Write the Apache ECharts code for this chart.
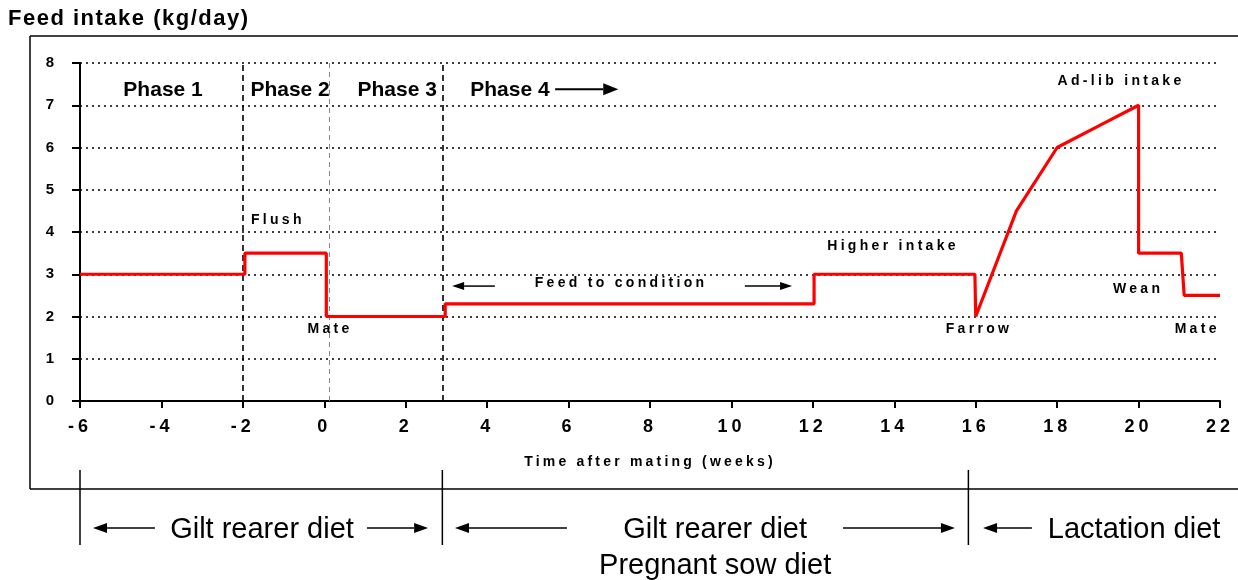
<!DOCTYPE html>
<html><head><meta charset="utf-8">
<script src="https://cdn.jsdelivr.net/npm/echarts@6/dist/echarts.min.js"></script>
<style>html,body{margin:0;padding:0;background:#fff}#c{width:1238px;height:580px}</style>
</head><body><div id="c"></div>
<script>
// ---- data ----
const weeks  = [-6, -2, -1.95, -1.95, 0.05, 0.05, 2.97, 2.97, 12.03, 12.03, 15.98, 16, 17, 18, 19, 20, 20, 21.05, 21.12, 22];
const intake = [ 3,  3,  3,     3.5,  3.5,  2,    2,    2.3,  2.3,   3,     3,     2,  4.5, 6, 6.5, 7, 3.5, 3.5,  2.5,  2.5];
const phaseNames = ['Phase 1', 'Phase 2', 'Phase 3', 'Phase 4'];
const phaseCenters = [-3.96, -0.84, 1.79, 4.56];
const phaseRow = 7.36;
const phaseBoldLines = [-2, 2.92];
const phaseThinLines = [0.12];
const noteTexts = ['Flush', 'Mate', 'Feed to condition', 'Higher intake', 'Farrow', 'Ad-lib intake', 'Wean', 'Mate'];
const noteX = [-1.14, 0.14, 7.29, 13.97, 16.08, 19.57, 19.99, 21.44];
const noteY = [4.28, 1.70, 2.79, 3.67, 1.70, 7.57, 2.65, 1.70];
const dietDividers = [-6, 2.9, 15.82];
const dietTexts = ['Gilt rearer diet', 'Gilt rearer diet', 'Pregnant sow diet', 'Lactation diet'];
const dietX = [-1.53, 9.6, 9.6, 19.89];
const dietRowPx = [530, 530, 566, 530];
const xMin = -6, xMax = 22, xStep = 2;
const yMin = 0, yMax = 8, yStep = 1;

// letter spacing for fonts whose family list carries a SpcNN marker (NN = tenths of a px)
(function () {
  const proto = CanvasRenderingContext2D.prototype;
  const of = proto.fillText;
  proto.fillText = function (t, x, y, m) {
    const mm = /Spc(\d+)/.exec(this.font || '');
    try { this.letterSpacing = mm ? (mm[1] / 10) + 'px' : '0px'; } catch (e) {}
    return m === undefined ? of.call(this, t, x, y) : of.call(this, t, x, y, m);
  };
})();

const FONT = '"Liberation Sans", Arial, sans-serif';
const SP = n => '"Liberation Sans", Spc' + n + ', sans-serif';
const chart = echarts.init(document.getElementById('c'), null, {renderer: 'canvas'});

const pts = weeks.map((w, i) => [w, intake[i]]);
const markLines = phaseBoldLines.map(v => ({xAxis: v, lineStyle: {color: '#000', type: [6, 4], width: 1.6}}))
  .concat(phaseThinLines.map(v => ({xAxis: v, lineStyle: {color: '#888', type: [5, 4], width: 1}})));

chart.setOption({
  animation: false,
  backgroundColor: '#fff',
  grid: {left: 80, right: 18, top: 63, bottom: 179, containLabel: false},
  xAxis: {
    type: 'value', min: xMin, max: xMax, interval: xStep,
    axisLine: {show: true, onZero: false, lineStyle: {color: '#000', width: 2}},
    axisTick: {show: true, length: 7, lineStyle: {color: '#000', width: 2}},
    axisLabel: {color: '#000', fontFamily: SP(40), fontWeight: 'bold', fontSize: 18, margin: 17},
    splitLine: {show: false},
    name: 'Time after mating (weeks)', nameLocation: 'middle', nameGap: 54,
    nameTextStyle: {color: '#000', fontFamily: SP(32), fontWeight: 'bold', fontSize: 14}
  },
  yAxis: {
    type: 'value', min: yMin, max: yMax, interval: yStep,
    axisLine: {show: true, onZero: false, lineStyle: {color: '#000', width: 2}},
    axisTick: {show: true, length: 8, lineStyle: {color: '#000', width: 2}},
    axisLabel: {color: '#000', fontFamily: FONT, fontWeight: 'bold', fontSize: 15, margin: 26},
    splitLine: {show: true, lineStyle: {color: '#000', type: [2, 4], width: 1.5}}
  },
  series: [{
    type: 'line', data: pts, showSymbol: false, symbol: 'none',
    lineStyle: {color: '#ff0000', width: 3.2}, z: 5,
    markLine: {silent: true, symbol: 'none', label: {show: false}, data: markLines}
  }]
});

function px(x, y) { return chart.convertToPixel({gridIndex: 0}, [x, y]); }
const g = [];
function text(str, x, y, font, align) {
  g.push({type: 'text', x: x, y: y, z: 50, style: {text: str, font: font, fill: '#000', align: align || 'center', verticalAlign: 'middle'}});
}
function line(x1, y1, x2, y2, w) {
  g.push({type: 'line', z: 40, shape: {x1, y1, x2, y2}, style: {stroke: '#000', lineWidth: w || 1.5}});
}
function arrow(xTail, xTip, y, w, hl, hh) {
  const d = xTip > xTail ? 1 : -1;
  line(xTail, y, xTip - d * hl, y, w);
  g.push({type: 'polygon', z: 40, shape: {points: [[xTip, y], [xTip - d * hl, y - hh / 2], [xTip - d * hl, y + hh / 2]]}, style: {fill: '#000'}});
}

// title and frame
text('Feed intake (kg/day)', 8, 19, 'bold 22px ' + SP(15), 'left');
line(30, 36, 1238, 36, 1.5);
line(30, 36, 30, 489, 1.5);
line(30, 489, 1238, 489, 1.5);

// phase labels
phaseNames.forEach((n, i) => { const p = px(phaseCenters[i], phaseRow); text(n, p[0], p[1], 'bold 21px ' + FONT); });
{ const a = px(5.67, 7.38), b = px(7.22, 7.38); arrow(a[0], b[0], a[1], 2, 15, 12); }

// notes
noteTexts.forEach((n, i) => { const p = px(noteX[i], noteY[i]); text(n, p[0], p[1], 'bold 14px ' + SP(33)); });
{ const a = px(4.19, 2.72), b = px(3.14, 2.72); arrow(a[0], b[0], a[1], 1.5, 12, 8); }
{ const a = px(10.33, 2.72), b = px(11.49, 2.72); arrow(a[0], b[0], a[1], 1.5, 12, 8); }

// diet section
dietDividers.forEach(v => { const p = px(v, 0); line(p[0], 470, p[0], 545, 1.5); });
dietTexts.forEach((n, i) => { const p = px(dietX[i], 0); text(n, p[0], dietRowPx[i], '29px ' + FONT); });
const dietArrows = [[-4.16, -5.68], [1.05, 2.55], [5.96, 3.21], [12.74, 15.49], [17.38, 16.18]];
dietArrows.forEach(a => { const t = px(a[0], 0), h = px(a[1], 0); arrow(t[0], h[0], 528, 1.6, 14, 10); });

chart.setOption({graphic: {elements: g}});
</script>
</body></html>
